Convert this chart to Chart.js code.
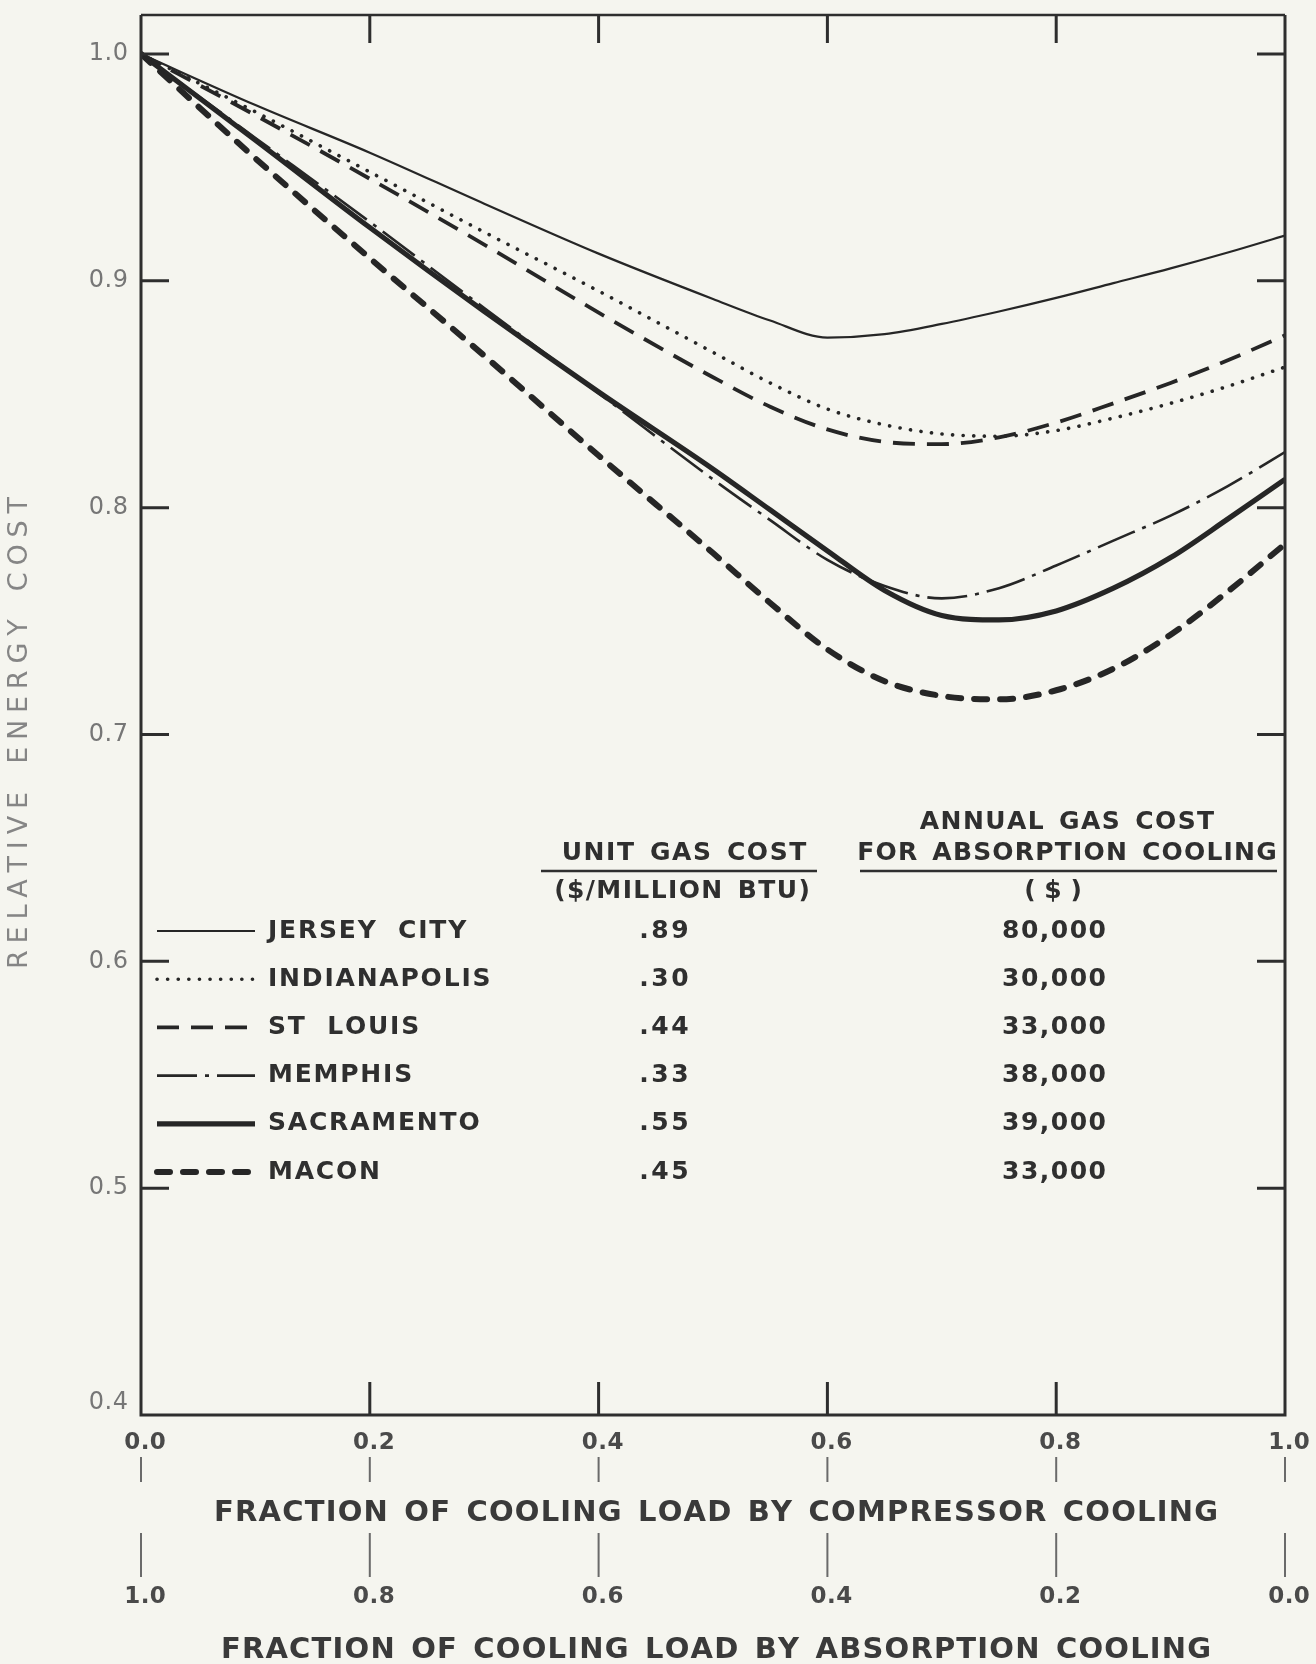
<!DOCTYPE html>
<html>
<head>
<meta charset="utf-8">
<script src="https://cdn.jsdelivr.net/npm/chart.js@4.4.1/dist/chart.umd.min.js"></script>
<style>
  html, body { margin: 0; padding: 0; background: #f5f5ef; }
  #wrap { width: 1316px; height: 1664px; }
</style>
</head>
<body>
<div id="wrap"><canvas id="c" width="1316" height="1664"></canvas></div>
<script>
// ---------------- DATA ----------------
const fractionCompressor = [0, 0.1, 0.2, 0.3, 0.4, 0.5, 0.55, 0.6, 0.65, 0.7, 0.75, 0.8, 0.85, 0.9, 0.95, 1.0];
const cities = ['JERSEY CITY', 'INDIANAPOLIS', 'ST LOUIS', 'MEMPHIS', 'SACRAMENTO', 'MACON'];
const jerseyCity   = [1.0, 0.9775, 0.9565, 0.934, 0.912, 0.892, 0.8825, 0.875, 0.8765, 0.881, 0.8865, 0.8925, 0.899, 0.9055, 0.9125, 0.920];
const indianapolis = [1.0, 0.9745, 0.948, 0.9215, 0.8955, 0.8685, 0.855, 0.8435, 0.8365, 0.8325, 0.8315, 0.834, 0.8395, 0.846, 0.8535, 0.862];
const stLouis      = [1.0, 0.973, 0.945, 0.916, 0.886, 0.8575, 0.8445, 0.8345, 0.829, 0.828, 0.831, 0.8375, 0.846, 0.855, 0.865, 0.876];
const memphis      = [1.0, 0.963, 0.926, 0.888, 0.8505, 0.8125, 0.7945, 0.777, 0.7655, 0.760, 0.7645, 0.7745, 0.7855, 0.7965, 0.8095, 0.8245];
const sacramento   = [1.0, 0.962, 0.9235, 0.8865, 0.851, 0.817, 0.799, 0.781, 0.7635, 0.7525, 0.7505, 0.7545, 0.7645, 0.778, 0.795, 0.8125];
const macon        = [1.0, 0.954, 0.910, 0.867, 0.823, 0.780, 0.758, 0.7375, 0.7235, 0.717, 0.7155, 0.7195, 0.729, 0.744, 0.763, 0.784];
const unitGasCost   = ['.89', '.30', '.44', '.33', '.55', '.45'];
const annualGasCost = ['80,000', '30,000', '33,000', '38,000', '39,000', '33,000'];
const yTickValues = [1.0, 0.9, 0.8, 0.7, 0.6, 0.5, 0.4];
const yTickLabels = ['1.0', '0.9', '0.8', '0.7', '0.6', '0.5', '0.4'];
const xTickValues = [0, 0.2, 0.4, 0.6, 0.8, 1.0];
const xTickLabelsCompressor = ['0.0', '0.2', '0.4', '0.6', '0.8', '1.0'];
const xTickLabelsAbsorption = ['1.0', '0.8', '0.6', '0.4', '0.2', '0.0'];
const xTitleCompressor = 'FRACTION OF COOLING LOAD BY COMPRESSOR COOLING';
const xTitleAbsorption = 'FRACTION OF COOLING LOAD BY ABSORPTION COOLING';
const yTitle = 'RELATIVE ENERGY COST';

// ---------------- STYLES ----------------
const ink = '#262626';
const seriesValues = [jerseyCity, indianapolis, stLouis, memphis, sacramento, macon];
const seriesStyles = [
  { borderWidth: 2.2, borderDash: [], borderCapStyle: 'butt' },
  { borderWidth: 3.6, borderDash: [0.1, 10.5], borderCapStyle: 'round' },
  { borderWidth: 3.8, borderDash: [22, 12], borderCapStyle: 'butt' },
  { borderWidth: 2.6, borderDash: [40, 8, 4, 8], borderCapStyle: 'butt' },
  { borderWidth: 5.2, borderDash: [], borderCapStyle: 'butt' },
  { borderWidth: 6, borderDash: [13, 13], borderCapStyle: 'round' }
];

const datasets = cities.map((name, i) => Object.assign({
  label: name,
  data: fractionCompressor.map((x, j) => ({ x: x, y: seriesValues[i][j] })),
  borderColor: ink,
  backgroundColor: ink,
  fill: false,
  pointRadius: 0,
  cubicInterpolationMode: 'monotone',
  borderJoinStyle: 'round'
}, seriesStyles[i]));

const SANS = '"DejaVu Sans", "Liberation Sans", Arial, sans-serif';

function spaced(ctx, text, x, y, sp, align, wordSp) {
  wordSp = wordSp || 0;
  const chars = Array.from(text);
  const ws = chars.map(c => ctx.measureText(c).width + (c === ' ' ? wordSp : 0));
  const total = ws.reduce((a, b) => a + b, 0) + sp * (chars.length - 1);
  let sx = align === 'center' ? x - total / 2 : (align === 'right' ? x - total : x);
  ctx.textAlign = 'left';
  chars.forEach((c, i) => { if (c !== ' ') ctx.fillText(c, sx, y); sx += ws[i] + sp; });
  return total;
}

const decor = {
  id: 'decor',
  beforeDraw(chart) {
    const ctx = chart.ctx;
    ctx.save();
    ctx.fillStyle = '#f5f5ef';
    ctx.fillRect(0, 0, chart.width, chart.height);
    ctx.restore();
  },
  afterDatasetsDraw(chart) {
    const ctx = chart.ctx;
    const xs = chart.scales.x, ys = chart.scales.y;
    const a = chart.chartArea;
    ctx.save();
    ctx.lineCap = 'butt';
    // frame
    ctx.strokeStyle = '#2e2e2e';
    ctx.lineWidth = 2.5;
    ctx.beginPath();
    ctx.moveTo(a.left, a.top); ctx.lineTo(a.right, a.top);
    ctx.stroke();
    ctx.lineWidth = 3;
    ctx.beginPath();
    ctx.moveTo(a.left, a.top); ctx.lineTo(a.left, a.bottom); ctx.lineTo(a.right, a.bottom); ctx.lineTo(a.right, a.top);
    ctx.stroke();
    // inner ticks on y (both sides)
    ctx.lineWidth = 3;
    yTickValues.forEach(v => {
      if (v === ys.min) return;
      const py = ys.getPixelForValue(v);
      ctx.beginPath();
      ctx.moveTo(a.left, py); ctx.lineTo(a.left + 28, py);
      ctx.moveTo(a.right, py); ctx.lineTo(a.right - 28, py);
      ctx.stroke();
    });
    // inner ticks on x (top and bottom)
    xTickValues.forEach(v => {
      if (v === xs.min || v === xs.max) return;
      const px = xs.getPixelForValue(v);
      ctx.beginPath();
      ctx.moveTo(px, a.top); ctx.lineTo(px, a.top + 28);
      ctx.moveTo(px, a.bottom); ctx.lineTo(px, a.bottom - 33);
      ctx.stroke();
    });
    // y tick labels
    ctx.fillStyle = '#767676';
    ctx.font = '24px ' + SANS;
    ctx.textBaseline = 'middle';
    yTickValues.forEach((v, i) => {
      let py = ys.getPixelForValue(v);
      if (v === ys.min) py -= 12;
      spaced(ctx, yTickLabels[i], 128, py, 0.5, 'right');
    });
    // y title
    ctx.save();
    ctx.translate(20, 733);
    ctx.rotate(-Math.PI / 2);
    ctx.fillStyle = '#858585';
    ctx.font = '27px ' + SANS;
    spaced(ctx, yTitle, 0, 0, 6.8, 'center', 6);
    ctx.restore();
    // x tick labels + marks rows
    const cx = (a.left + a.right) / 2;
    ctx.font = 'bold 23px ' + SANS;
    ctx.fillStyle = '#4a4a4a';
    xTickValues.forEach((v, i) => {
      const px = xs.getPixelForValue(v);
      spaced(ctx, xTickLabelsCompressor[i], px + 4, 1443, 0.5, 'center');
      spaced(ctx, xTickLabelsAbsorption[i], px + 4, 1597, 0.5, 'center');
      ctx.strokeStyle = '#6a6a6a';
      ctx.lineWidth = 2;
      ctx.beginPath();
      ctx.moveTo(px, 1457); ctx.lineTo(px, 1482);
      ctx.moveTo(px, 1533); ctx.lineTo(px, 1577);
      ctx.stroke();
    });
    ctx.font = 'bold 29px ' + SANS;
    ctx.fillStyle = '#3a3a3a';
    spaced(ctx, xTitleCompressor, cx + 3, 1513, 1.2, 'center', 4);
    spaced(ctx, xTitleAbsorption, cx + 3, 1650, 1.2, 'center', 4);

    // table headers
    ctx.fillStyle = '#2f2f2f';
    ctx.font = 'bold 25px ' + SANS;
    spaced(ctx, 'UNIT GAS COST', 684, 853, 1.6, 'center', 4);
    spaced(ctx, '($/MILLION BTU)', 682, 891, 1.4, 'center', 4);
    spaced(ctx, 'ANNUAL GAS COST', 1067, 822, 1.4, 'center', 4);
    spaced(ctx, 'FOR ABSORPTION COOLING', 1067, 853, 1.2, 'center', 4);
    spaced(ctx, '( $ )', 1053, 891, 0, 'center');
    ctx.strokeStyle = '#2f2f2f';
    ctx.lineWidth = 2.5;
    ctx.beginPath();
    ctx.moveTo(541, 871); ctx.lineTo(817, 871);
    ctx.moveTo(860, 871); ctx.lineTo(1277, 871);
    ctx.stroke();

    // legend rows
    chart.data.datasets.forEach((ds, i) => {
      const ry = 931 + i * 48.2;
      ctx.save();
      ctx.strokeStyle = ds.borderColor;
      ctx.lineWidth = ds.borderWidth;
      ctx.lineCap = ds.borderCapStyle;
      ctx.setLineDash(ds.borderDash);
      ctx.beginPath();
      ctx.moveTo(157, ry); ctx.lineTo(255, ry);
      ctx.stroke();
      ctx.restore();
      ctx.fillStyle = '#2f2f2f';
      ctx.font = 'bold 25px ' + SANS;
      spaced(ctx, ds.label, 268, ry, 1.8, 'left', 10);
      spaced(ctx, unitGasCost[i], 664, ry, 2.5, 'center');
      spaced(ctx, annualGasCost[i], 1054, ry, 1.5, 'center');
    });
    ctx.restore();
  }
};

new Chart(document.getElementById('c').getContext('2d'), {
  type: 'line',
  data: { datasets: datasets },
  options: {
    responsive: false,
    animation: false,
    devicePixelRatio: 1,
    layout: { padding: { left: 141, right: 31, top: 15, bottom: 249 } },
    plugins: { legend: { display: false }, tooltip: { enabled: false } },
    scales: {
      x: { type: 'linear', min: 0, max: 1, display: false },
      y: { type: 'linear', min: 0.4, max: 1.0172, display: false }
    }
  },
  plugins: [decor]
});
</script>
</body>
</html>
